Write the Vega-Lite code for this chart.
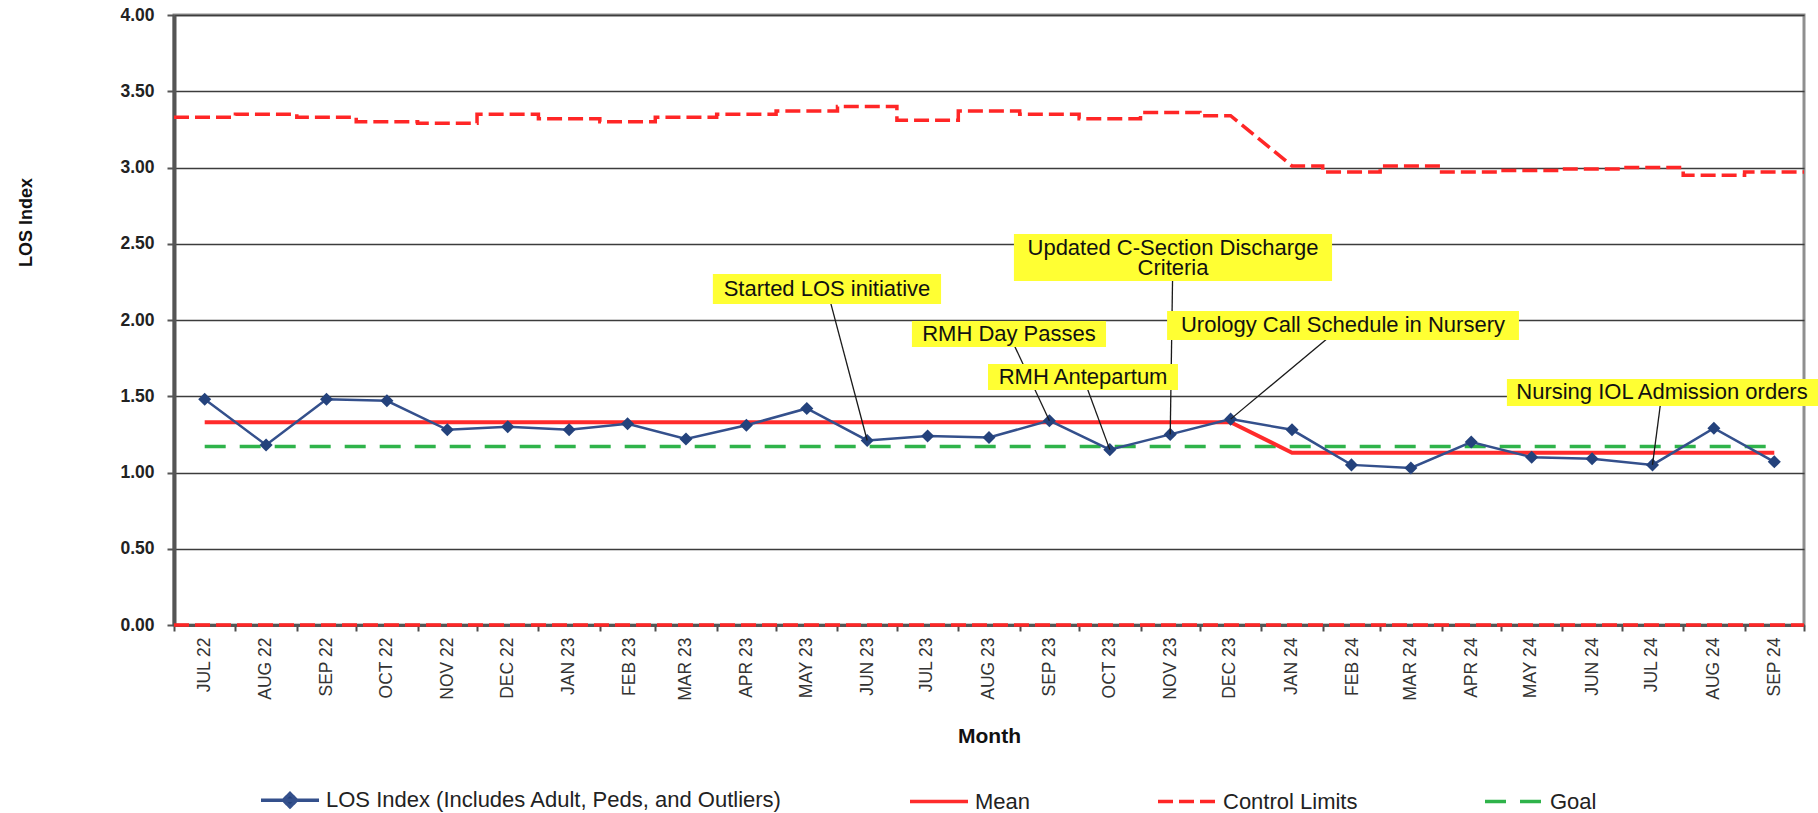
{
  "$schema": "https://vega.github.io/schema/vega-lite/v6.json",
  "width": 1630,
  "height": 610,
  "autosize": {"type": "none"},
  "padding": {"left": 174, "top": 15, "right": 14, "bottom": 188},
  "background": "#ffffff",
  "config": {"view": {"stroke": "#8f8f8f", "strokeWidth": 3}, "font": "Liberation Sans"},
  "datasets": {
    "limits": [
      {"date": "2022-07-01T00:00", "ucl": 3.33, "lcl": 0}, {"date": "2022-08-01T00:00", "ucl": 3.33, "lcl": 0},
      {"date": "2022-08-01T00:00", "ucl": 3.35, "lcl": 0}, {"date": "2022-09-01T00:00", "ucl": 3.35, "lcl": 0},
      {"date": "2022-09-01T00:00", "ucl": 3.33, "lcl": 0}, {"date": "2022-10-01T00:00", "ucl": 3.33, "lcl": 0},
      {"date": "2022-10-01T00:00", "ucl": 3.30, "lcl": 0}, {"date": "2022-11-01T00:00", "ucl": 3.30, "lcl": 0},
      {"date": "2022-11-01T00:00", "ucl": 3.29, "lcl": 0}, {"date": "2022-12-01T00:00", "ucl": 3.29, "lcl": 0},
      {"date": "2022-12-01T00:00", "ucl": 3.35, "lcl": 0}, {"date": "2023-01-01T00:00", "ucl": 3.35, "lcl": 0},
      {"date": "2023-01-01T00:00", "ucl": 3.32, "lcl": 0}, {"date": "2023-02-01T00:00", "ucl": 3.32, "lcl": 0},
      {"date": "2023-02-01T00:00", "ucl": 3.30, "lcl": 0}, {"date": "2023-03-01T00:00", "ucl": 3.30, "lcl": 0},
      {"date": "2023-03-01T00:00", "ucl": 3.33, "lcl": 0}, {"date": "2023-04-01T00:00", "ucl": 3.33, "lcl": 0},
      {"date": "2023-04-01T00:00", "ucl": 3.35, "lcl": 0}, {"date": "2023-05-01T00:00", "ucl": 3.35, "lcl": 0},
      {"date": "2023-05-01T00:00", "ucl": 3.37, "lcl": 0}, {"date": "2023-06-01T00:00", "ucl": 3.37, "lcl": 0},
      {"date": "2023-06-01T00:00", "ucl": 3.40, "lcl": 0}, {"date": "2023-07-01T00:00", "ucl": 3.40, "lcl": 0},
      {"date": "2023-07-01T00:00", "ucl": 3.31, "lcl": 0}, {"date": "2023-08-01T00:00", "ucl": 3.31, "lcl": 0},
      {"date": "2023-08-01T00:00", "ucl": 3.37, "lcl": 0}, {"date": "2023-09-01T00:00", "ucl": 3.37, "lcl": 0},
      {"date": "2023-09-01T00:00", "ucl": 3.35, "lcl": 0}, {"date": "2023-10-01T00:00", "ucl": 3.35, "lcl": 0},
      {"date": "2023-10-01T00:00", "ucl": 3.32, "lcl": 0}, {"date": "2023-11-01T00:00", "ucl": 3.32, "lcl": 0},
      {"date": "2023-11-01T00:00", "ucl": 3.36, "lcl": 0}, {"date": "2023-12-01T00:00", "ucl": 3.36, "lcl": 0},
      {"date": "2023-12-01T00:00", "ucl": 3.34, "lcl": 0}, {"date": "2023-12-16T12:00", "ucl": 3.34, "lcl": 0},
      {"date": "2024-01-16T12:00", "ucl": 3.01, "lcl": 0}, {"date": "2024-02-01T00:00", "ucl": 3.01, "lcl": 0},
      {"date": "2024-02-01T00:00", "ucl": 2.97, "lcl": 0}, {"date": "2024-03-01T00:00", "ucl": 2.97, "lcl": 0},
      {"date": "2024-03-01T00:00", "ucl": 3.01, "lcl": 0}, {"date": "2024-04-01T00:00", "ucl": 3.01, "lcl": 0},
      {"date": "2024-04-01T00:00", "ucl": 2.97, "lcl": 0}, {"date": "2024-05-01T00:00", "ucl": 2.97, "lcl": 0},
      {"date": "2024-05-01T00:00", "ucl": 2.98, "lcl": 0}, {"date": "2024-06-01T00:00", "ucl": 2.98, "lcl": 0},
      {"date": "2024-06-01T00:00", "ucl": 2.99, "lcl": 0}, {"date": "2024-07-01T00:00", "ucl": 2.99, "lcl": 0},
      {"date": "2024-07-01T00:00", "ucl": 3.00, "lcl": 0}, {"date": "2024-08-01T00:00", "ucl": 3.00, "lcl": 0},
      {"date": "2024-08-01T00:00", "ucl": 2.95, "lcl": 0}, {"date": "2024-09-01T00:00", "ucl": 2.95, "lcl": 0},
      {"date": "2024-09-01T00:00", "ucl": 2.97, "lcl": 0}, {"date": "2024-10-01T00:00", "ucl": 2.97, "lcl": 0}
    ],
    "los": [
      {"month": "2022-07-01T00:00", "los": 1.48, "mean": 1.33, "goal": 1.17},
      {"month": "2022-08-01T00:00", "los": 1.18, "mean": 1.33, "goal": 1.17},
      {"month": "2022-09-01T00:00", "los": 1.48, "mean": 1.33, "goal": 1.17},
      {"month": "2022-10-01T00:00", "los": 1.47, "mean": 1.33, "goal": 1.17},
      {"month": "2022-11-01T00:00", "los": 1.28, "mean": 1.33, "goal": 1.17},
      {"month": "2022-12-01T00:00", "los": 1.30, "mean": 1.33, "goal": 1.17},
      {"month": "2023-01-01T00:00", "los": 1.28, "mean": 1.33, "goal": 1.17},
      {"month": "2023-02-01T00:00", "los": 1.32, "mean": 1.33, "goal": 1.17},
      {"month": "2023-03-01T00:00", "los": 1.22, "mean": 1.33, "goal": 1.17},
      {"month": "2023-04-01T00:00", "los": 1.31, "mean": 1.33, "goal": 1.17},
      {"month": "2023-05-01T00:00", "los": 1.42, "mean": 1.33, "goal": 1.17},
      {"month": "2023-06-01T00:00", "los": 1.21, "mean": 1.33, "goal": 1.17},
      {"month": "2023-07-01T00:00", "los": 1.24, "mean": 1.33, "goal": 1.17},
      {"month": "2023-08-01T00:00", "los": 1.23, "mean": 1.33, "goal": 1.17},
      {"month": "2023-09-01T00:00", "los": 1.34, "mean": 1.33, "goal": 1.17},
      {"month": "2023-10-01T00:00", "los": 1.15, "mean": 1.33, "goal": 1.17},
      {"month": "2023-11-01T00:00", "los": 1.25, "mean": 1.33, "goal": 1.17},
      {"month": "2023-12-01T00:00", "los": 1.35, "mean": 1.33, "goal": 1.17},
      {"month": "2024-01-01T00:00", "los": 1.28, "mean": 1.13, "goal": 1.17},
      {"month": "2024-02-01T00:00", "los": 1.05, "mean": 1.13, "goal": 1.17},
      {"month": "2024-03-01T00:00", "los": 1.03, "mean": 1.13, "goal": 1.17},
      {"month": "2024-04-01T00:00", "los": 1.20, "mean": 1.13, "goal": 1.17},
      {"month": "2024-05-01T00:00", "los": 1.10, "mean": 1.13, "goal": 1.17},
      {"month": "2024-06-01T00:00", "los": 1.09, "mean": 1.13, "goal": 1.17},
      {"month": "2024-07-01T00:00", "los": 1.05, "mean": 1.13, "goal": 1.17},
      {"month": "2024-08-01T00:00", "los": 1.29, "mean": 1.13, "goal": 1.17},
      {"month": "2024-09-01T00:00", "los": 1.07, "mean": 1.13, "goal": 1.17}
    ],
    "notes": [
      {"label": "Started LOS initiative", "month": "2023-06-01T00:00", "value": 1.21, "lx": "2023-05-26T17:00", "ly": 2.203, "bx1": "2023-03-30T02:00", "bx2": "2023-07-23T07:00", "by1": 2.302, "by2": 2.105},
      {"label": ["Updated C-Section Discharge", "Criteria"], "month": "2023-11-01T00:00", "value": 1.25, "lx": "2023-11-17T10:00", "ly": 2.472, "bx1": "2023-08-29T02:00", "bx2": "2024-02-05T17:00", "by1": 2.564, "by2": 2.256},
      {"label": "RMH Day Passes", "month": "2023-09-01T00:00", "value": 1.34, "lx": "2023-08-26T14:00", "ly": 1.908, "bx1": "2023-07-08T14:00", "bx2": "2023-10-14T14:00", "by1": 1.993, "by2": 1.823},
      {"label": "RMH Antepartum", "month": "2023-10-01T00:00", "value": 1.15, "lx": "2023-10-03T00:00", "ly": 1.626, "bx1": "2023-08-16T00:00", "bx2": "2023-11-19T22:00", "by1": 1.711, "by2": 1.541},
      {"label": "Urology Call Schedule in Nursery", "month": "2023-12-01T00:00", "value": 1.35, "lx": "2024-02-11T05:00", "ly": 1.964, "bx1": "2023-11-14T10:00", "bx2": "2024-05-10T02:00", "by1": 2.059, "by2": 1.869},
      {"label": "Nursing IOL Admission orders", "month": "2024-07-01T00:00", "value": 1.05, "lx": "2024-07-21T07:00", "ly": 1.525, "bx1": "2024-05-04T00:00", "bx2": "2024-10-08T02:00", "by1": 1.613, "by2": 1.436}
    ]
  },
  "layer": [
    {
      "data": {"name": "limits"},
      "mark": {"type": "line", "strokeWidth": 3.5, "strokeDash": [15, 6]},
      "encoding": {
        "x": {
          "field": "date", "type": "temporal", "title": "Month",
          "scale": {"domain": [{"year": 2022, "month": 7, "date": 1}, {"year": 2024, "month": 10, "date": 1}]},
          "axis": {
            "title": "Month",
            "tickCount": {"interval": "month", "step": 1},
            "labelExpr": "(year(datum.value) == 2024 && month(datum.value) == 9) ? '' : upper(timeFormat(datum.value, '%b %y'))",
            "labelAngle": 270, "labelAlign": "right", "labelBaseline": "middle",
            "labelOffset": 30, "labelPadding": 6, "labelFontSize": 17.5, "labelColor": "#333333",
            "labelOverlap": false, "labelFlush": false, "labelBound": false,
            "tickSize": 6, "tickColor": "#4d4d4d", "tickWidth": 2,
            "domainColor": "#555555", "domainWidth": 3, "grid": false,
            "titleFontSize": 21, "titleFontWeight": "bold", "titleColor": "#111111", "titlePadding": 25
          }
        },
        "y": {
          "field": "ucl", "type": "quantitative", "title": "LOS Index",
          "scale": {"domain": [0, 4], "nice": false, "zero": true},
          "axis": {
            "title": "LOS Index",
            "values": [0, 0.5, 1, 1.5, 2, 2.5, 3, 3.5, 4], "format": ".2f",
            "labelFontSize": 17.5, "labelFontWeight": "bold", "labelColor": "#222222", "labelPadding": 13,
            "tickSize": 7, "tickColor": "#555555", "tickWidth": 2,
            "domainColor": "#555555", "domainWidth": 4,
            "grid": true, "gridColor": "#3c3c3c", "gridWidth": 1.5,
            "titleFontSize": 18, "titleFontWeight": "bold", "titleColor": "#111111", "titlePadding": 84,
            "titleY": 207
          }
        },
        "color": {
          "datum": "Control Limits", "type": "nominal",
          "scale": {
            "domain": ["LOS Index (Includes Adult, Peds, and Outliers)", "Mean", "Control Limits", "Goal"],
            "range": ["#34508c", "#ff2b2b", "#ff2626", "#2fb34a"]
          },
          "legend": {
            "orient": "none", "legendX": 85, "legendY": 754, "direction": "horizontal", "title": null,
            "symbolType": "stroke", "symbolSize": 3364, "symbolStrokeWidth": 3.5,
            "labelFontSize": 22, "labelColor": "#222222", "labelOffset": 5, "labelLimit": 700,
            "columnPadding": 120, "padding": 0,
            "encode": {
              "symbols": {
                "update": {
                  "shape": {"signal": "datum.value == 'LOS Index (Includes Adult, Peds, and Outliers)' ? 'M-1,0H1M0,-0.23L0.23,0L0,0.23L-0.23,0Z' : 'stroke'"},
                  "fill": {"signal": "datum.value == 'LOS Index (Includes Adult, Peds, and Outliers)' ? '#24427c' : 'transparent'"},
                  "strokeDash": {"signal": "datum.value == 'Control Limits' ? [15, 6] : datum.value == 'Goal' ? [21, 14] : [1, 0]"}
                }
              }
            }
          }
        },
        "order": {"value": null}
      }
    },
    {
      "data": {"name": "limits"},
      "mark": {"type": "line", "strokeWidth": 3.5, "strokeDash": [15, 6]},
      "encoding": {
        "x": {"field": "date", "type": "temporal", "title": "Month"},
        "y": {"field": "lcl", "type": "quantitative", "title": "LOS Index"},
        "color": {"datum": "Control Limits", "type": "nominal"},
        "order": {"value": null}
      }
    },
    {
      "data": {"name": "los"},
      "mark": {"type": "line", "strokeWidth": 3.5, "strokeDash": [21, 14]},
      "encoding": {
        "x": {"field": "month", "type": "temporal", "timeUnit": "yearmonth", "bandPosition": 0.5, "title": "Month"},
        "y": {"field": "goal", "type": "quantitative", "title": "LOS Index"},
        "color": {"datum": "Goal", "type": "nominal"}
      }
    },
    {
      "data": {"name": "los"},
      "mark": {"type": "line", "strokeWidth": 4},
      "encoding": {
        "x": {"field": "month", "type": "temporal", "timeUnit": "yearmonth", "bandPosition": 0.5, "title": "Month"},
        "y": {"field": "mean", "type": "quantitative", "title": "LOS Index"},
        "color": {"datum": "Mean", "type": "nominal"}
      }
    },
    {
      "data": {"name": "los"},
      "mark": {"type": "line", "strokeWidth": 2.5},
      "encoding": {
        "x": {"field": "month", "type": "temporal", "timeUnit": "yearmonth", "bandPosition": 0.5, "title": "Month"},
        "y": {"field": "los", "type": "quantitative", "title": "LOS Index"},
        "color": {"datum": "LOS Index (Includes Adult, Peds, and Outliers)", "type": "nominal"}
      }
    },
    {
      "data": {"name": "los"},
      "mark": {"type": "point", "shape": "diamond", "filled": true, "size": 170, "color": "#24427c", "opacity": 1},
      "encoding": {
        "x": {"field": "month", "type": "temporal", "timeUnit": "yearmonth", "bandPosition": 0.5, "title": "Month"},
        "y": {"field": "los", "type": "quantitative", "title": "LOS Index"}
      }
    },
    {
      "data": {"name": "notes"},
      "mark": {"type": "rule", "color": "#1a1a1a", "strokeWidth": 1.3},
      "encoding": {
        "x": {"field": "month", "type": "temporal", "timeUnit": "yearmonth", "bandPosition": 0.5, "title": "Month"},
        "y": {"field": "value", "type": "quantitative", "title": "LOS Index"},
        "x2": {"field": "lx"},
        "y2": {"field": "ly"}
      }
    },
    {
      "data": {"name": "notes"},
      "mark": {"type": "rect", "fill": "#ffff33", "clip": false},
      "encoding": {
        "x": {"field": "bx1", "type": "temporal", "title": "Month"},
        "x2": {"field": "bx2"},
        "y": {"field": "by1", "type": "quantitative", "title": "LOS Index"},
        "y2": {"field": "by2"}
      }
    },
    {
      "data": {"name": "notes"},
      "mark": {"type": "text", "fontSize": 22, "color": "#111111", "align": "center", "baseline": "middle", "lineHeight": 20},
      "encoding": {
        "x": {"field": "lx", "type": "temporal", "title": "Month"},
        "y": {"field": "ly", "type": "quantitative", "title": "LOS Index"},
        "text": {"field": "label"}
      }
    }
  ]
}
